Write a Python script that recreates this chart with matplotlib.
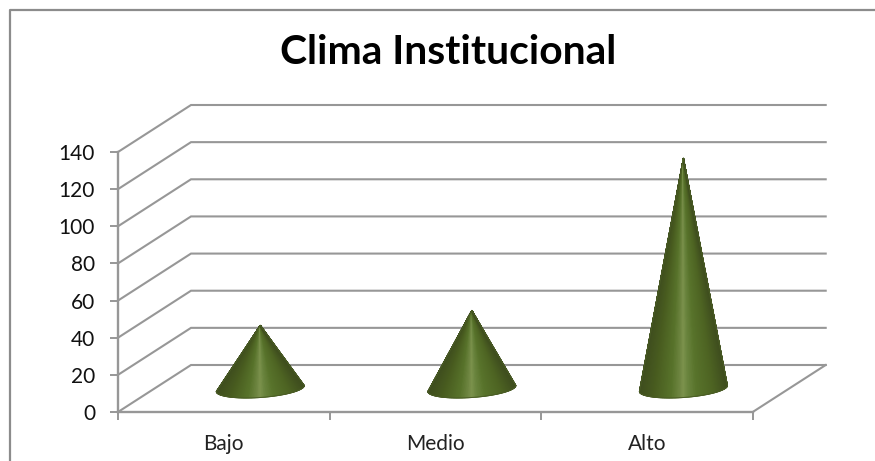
import numpy as np
import matplotlib
matplotlib.use("Agg")
import matplotlib.pyplot as plt
from matplotlib.colors import LinearSegmentedColormap
from matplotlib.lines import Line2D

categories = ["Bajo", "Medio", "Alto"]
values = [34, 42, 124]
y_ticks = [0, 20, 40, 60, 80, 100, 120, 140]
title = "Clima Institucional"

W, H = 875, 461
plt.rcParams["font.family"] = ["Lato", "DejaVu Sans"]
fig = plt.figure(figsize=(W / 100, H / 100), dpi=100, facecolor="white")

# axes = front plane of the 3-D box
L, R, T, B = 118, 752.7, 152, 412
ax = fig.add_axes([L / W, 1 - B / H, (R - L) / W, (B - T) / H])
ax.set_xlim(-0.5, 2.5)
ax.set_ylim(0, 140)
ax.patch.set_alpha(0)

GRID = "#979797"
px_x = (R - L) / 3      # px per category
px_y = (B - T) / 140    # px per value unit
DX, DY = 73 / px_x, 47 / px_y   # depth offset in data units

# walls
xmin, xmax = -0.5, 2.5
for v in y_ticks:
    ax.plot([xmin, xmin + DX, xmax + DX], [v, v + DY, v + DY], color=GRID, lw=1.5,
            clip_on=False, zorder=1, solid_joinstyle="miter")
ax.plot([xmax, xmax + DX], [0, DY], color=GRID, lw=1.5, clip_on=False, zorder=1)

# spines and ticks
for s in ("top", "right"):
    ax.spines[s].set_visible(False)
for s in ("left", "bottom"):
    ax.spines[s].set_color(GRID)
    ax.spines[s].set_linewidth(1.7)
    ax.spines[s].set_zorder(2)
ax.set_yticks(y_ticks)
ax.set_xticks(range(len(categories)))
ax.set_xticklabels(categories)
ax.set_xticks([-0.5, 0.5, 1.5, 2.5], minor=True)
ax.tick_params(axis="x", which="major", length=0, pad=15.5, labelsize=15, labelcolor="#222222")
ax.tick_params(axis="x", which="minor", length=5.5, width=1.4, color=GRID)
ax.tick_params(axis="y", length=6, width=1.4, color=GRID, pad=10.5, labelsize=15, labelcolor="#111111")

# cones
cmap = LinearSegmentedColormap.from_list("cone", [
    (0.00, "#3f4e1e"), (0.15, "#485b1f"), (0.36, "#58732b"), (0.46, "#6f8642"),
    (0.50, "#7d934e"), (0.56, "#6a843e"), (0.66, "#58732b"), (0.85, "#4d6322"),
    (1.00, "#3f4e1e")])
RAD = 44 / px_x
MINOR = 9 / px_y
TILT = 3 / px_y
t = np.linspace(np.pi, 0, 181)
for i, v in enumerate(values):
    cx, cy = i + DX / 2, DY / 2
    bx = cx + RAD * np.cos(t)
    by = cy + TILT * np.cos(t) - MINOR * np.sin(t)
    X = np.vstack([np.full_like(bx, cx), bx])
    Y = np.vstack([np.full_like(by, cy + v), by])
    C = np.vstack([np.cos(t), np.cos(t)])
    ax.pcolormesh(X, Y, C, cmap=cmap, vmin=-1, vmax=1, shading="gouraud", zorder=3, clip_on=False)
    ax.plot(np.r_[cx, bx, cx], np.r_[cy + v, by, cy + v], color="#4a5c25", lw=0.7,
            zorder=4, clip_on=False, solid_joinstyle="round")
ax.set_xlim(-0.5, 2.5)
ax.set_ylim(0, 140)

# title and chart frame
fig.text(448.5 / W, 1 - 53 / H, title, ha="center", va="center", fontsize=29.3,
         fontweight="bold", color="black")
FRAME = "#8c8c8c"
x0, y0 = 10 / W, 1 - 10 / H
fig.add_artist(Line2D([x0, x0, 1], [0, y0, y0], color=FRAME, lw=1.6, transform=fig.transFigure))

fig.savefig("out.png", dpi=100, facecolor="white")
